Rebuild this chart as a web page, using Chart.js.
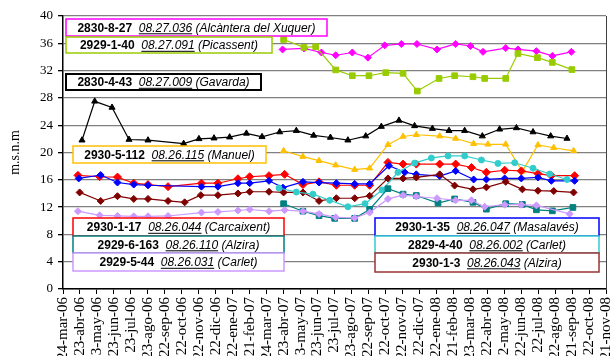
<!DOCTYPE html>
<html>
<head>
<meta charset="utf-8">
<script src="https://cdn.jsdelivr.net/npm/chart.js@4.4.0/dist/chart.umd.min.js"></script>
<style>
  html, body { margin: 0; padding: 0; background: #fff; }
  #wrap { width: 612px; height: 356px; }
</style>
</head>
<body>
<div id="wrap"><canvas id="levels" width="612" height="356"></canvas></div>
<script>
// x = months counted from 24-mar-06 (one tick per month), y = m.s.n.m
const xLabels = ['24-mar-06', '23-abr-06', '23-may-06', '23-jun-06', '23-jul-06', '23-ago-06',
    '22-sep-06', '22-oct-06', '22-nov-06', '22-dic-06', '22-ene-07', '21-feb-07', '24-mar-07',
    '23-abr-07', '23-may-07', '23-jun-07', '23-jul-07', '23-ago-07', '22-sep-07', '22-oct-07',
    '22-nov-07', '22-dic-07', '22-ene-08', '21-feb-08', '23-mar-08', '22-abr-08', '22-may-08',
    '22-jun-08', '22-jul-08', '22-ago-08', '21-sep-08', '22-oct-08', '21-nov-08'];
const yMin = 0, yMax = 40, yStep = 4;

// 2830-8-27 Alcàntera del Xuquer
const alcanteraX = [12.94, 14.20, 15.23, 16.07, 17.05, 17.97, 18.96, 19.94, 20.86, 22.04, 23.14, 24.01, 24.75, 26.09, 26.81, 27.90, 28.84, 29.96];
const alcanteraY = [35.1, 35.25, 34.65, 34.25, 34.65, 33.9, 35.7, 35.9, 35.9, 35.1, 35.9, 35.6, 34.75, 35.3, 35.1, 34.85, 34.15, 34.75];
// 2929-1-40 Picassent
const picassentX = [13.0, 14.2, 14.89, 16.07, 17.05, 18.03, 19.02, 20.04, 20.88, 22.16, 23.08, 24.16, 24.85, 26.09, 26.81, 27.96, 28.84, 29.99];
const picassentY = [36.55, 35.4, 35.5, 32.1, 31.25, 31.25, 31.7, 31.6, 29.0, 30.85, 31.25, 31.1, 30.85, 30.85, 34.5, 33.9, 33.2, 32.15];
// 2830-4-43 Gavarda
const gavardaX = [1.12, 1.87, 2.89, 3.89, 5.01, 7.11, 8.01, 8.9, 9.82, 10.81, 11.73, 12.77, 13.75, 14.77, 15.76, 16.79, 17.84, 18.76, 19.80, 20.72, 21.77, 22.75, 23.67, 24.71, 25.73, 26.72, 27.70, 28.74, 29.70];
const gavardaY = [21.8, 27.5, 26.6, 21.9, 21.8, 21.3, 22.0, 22.1, 22.25, 22.8, 22.3, 23.0, 23.2, 22.5, 22.2, 21.8, 22.4, 23.8, 24.7, 23.9, 23.5, 23.2, 23.2, 22.4, 23.4, 23.6, 23.0, 22.4, 22.05];
// 2930-5-112 Manuel
const manuelX = [13.0, 14.14, 15.09, 16.07, 17.19, 18.07, 19.15, 20.04, 20.82, 22.2, 23.14, 24.2, 25.04, 26.09, 27.07, 27.99, 28.92, 30.09];
const manuelY = [20.25, 19.4, 18.8, 18.15, 17.5, 17.7, 21.15, 22.35, 22.6, 22.4, 22.05, 21.3, 21.2, 21.2, 17.25, 21.1, 20.7, 20.25];
// 2930-1-17 Carcaixent
const carcaixentX = [0.88, 2.16, 3.21, 4.17, 5.01, 6.19, 8.16, 9.13, 10.31, 11.0, 12.14, 13.06, 14.14, 15.09, 16.11, 17.19, 18.07, 19.15, 20.04, 20.82, 22.2, 23.14, 24.07, 24.95, 26.03, 27.01, 27.99, 28.78, 30.15];
const carcaixentY = [16.65, 16.45, 16.4, 15.5, 15.3, 15.0, 15.5, 15.5, 16.15, 16.45, 16.6, 16.8, 15.3, 15.7, 15.2, 15.2, 15.2, 18.55, 18.3, 18.3, 18.3, 18.3, 17.8, 17.1, 17.4, 17.3, 16.9, 16.6, 16.6];
// 2930-1-35 Masalavés
const masalavesX = [0.93, 2.22, 3.21, 4.17, 5.01, 8.16, 9.13, 10.31, 11.0, 12.14, 12.96, 14.14, 15.09, 16.11, 17.19, 18.07, 19.21, 20.14, 20.82, 22.2, 23.14, 24.2, 24.95, 26.03, 27.01, 27.99, 28.78, 30.15];
const masalavesY = [16.2, 16.7, 15.6, 15.3, 15.2, 15.0, 15.0, 15.5, 15.5, 15.85, 14.85, 15.7, 15.6, 15.5, 15.4, 15.4, 18.05, 17.1, 16.8, 16.55, 17.3, 16.05, 16.05, 16.2, 16.2, 16.35, 15.85, 15.85];
// 2930-1-3 Alzira
const alzira3X = [0.98, 2.22, 3.21, 4.17, 5.01, 6.19, 7.17, 8.12, 9.13, 10.31, 11.0, 12.14, 13.0, 14.14, 15.09, 16.11, 17.19, 18.07, 19.15, 20.04, 20.82, 22.2, 23.08, 24.16, 24.95, 26.09, 27.07, 27.99, 28.92, 30.09];
const alzira3Y = [14.15, 12.9, 13.6, 13.2, 13.2, 12.9, 12.7, 13.75, 13.75, 14.0, 14.25, 14.25, 14.15, 14.15, 12.9, 13.3, 13.3, 13.65, 16.2, 16.2, 16.35, 16.8, 15.15, 14.6, 14.9, 15.7, 14.6, 14.4, 14.35, 14.15];
// 2929-5-44 Carlet
const carlet44X = [0.88, 2.16, 3.21, 4.17, 5.01, 6.19, 8.16, 9.13, 10.31, 11.0, 12.14, 13.06, 14.14, 15.09, 16.07, 17.19, 18.07, 19.15, 20.04, 20.82, 22.04, 23.14, 24.07, 24.85, 26.03, 27.01, 27.9, 29.86];
const carlet44Y = [11.4, 10.8, 10.7, 10.65, 10.65, 10.7, 11.2, 11.3, 11.5, 11.65, 11.4, 11.55, 11.4, 11.0, 10.5, 10.4, 11.2, 13.2, 13.75, 13.55, 13.3, 13.0, 13.0, 12.05, 12.35, 12.35, 12.25, 11.0];
// 2929-6-163 Alzira
const alzira163X = [13.0, 14.14, 15.09, 16.01, 17.19, 18.07, 19.15, 20.04, 20.82, 22.1, 23.08, 24.16, 24.95, 26.09, 27.07, 27.90, 28.84, 30.05];
const alzira163Y = [12.5, 11.4, 10.75, 10.35, 10.35, 11.65, 14.7, 13.9, 13.7, 12.6, 13.2, 12.7, 11.7, 12.5, 12.4, 11.6, 11.45, 11.95];
// 2829-4-40 Carlet
const carlet40X = [12.73, 13.75, 14.73, 15.72, 16.79, 17.80, 18.8, 19.74, 20.72, 21.71, 22.69, 23.67, 24.66, 25.63, 26.62, 27.70, 28.68, 29.70];
const carlet40Y = [14.8, 14.2, 13.9, 13.0, 12.05, 12.5, 14.5, 17.1, 18.45, 19.2, 19.5, 19.5, 18.9, 18.4, 18.5, 17.7, 16.85, 16.05];

// labelled boxes laid over the plot
const wellBoxes = [
    { code: '2830-8-27', id: '08.27.036', name: 'Alcàntera del Xuquer', color: '#ff00ff', rect: [66, 19, 261, 17] },
    { code: '2929-1-40', id: '08.27.091', name: 'Picassent', color: '#99cc00', rect: [66, 37, 206, 16] },
    { code: '2830-4-43', id: '08.27.009', name: 'Gavarda', color: '#000000', rect: [66, 74, 195, 16], lw: 2 },
    { code: '2930-5-112', id: '08.26.115', name: 'Manuel', color: '#ffc000', rect: [73, 146, 193, 17] },
    { code: '2930-1-17', id: '08.26.044', name: 'Carcaixent', color: '#ff0000', rect: [73, 218, 211, 18] },
    { code: '2929-6-163', id: '08.26.110', name: 'Alzira', color: '#008080', rect: [73, 236, 211, 17] },
    { code: '2929-5-44', id: '08.26.031', name: 'Carlet', color: '#cc99ff', rect: [73, 253, 211, 18] },
    { code: '2930-1-35', id: '08.26.047', name: 'Masalavés', color: '#0000ff', rect: [375, 218, 224, 18] },
    { code: '2829-4-40', id: '08.26.002', name: 'Carlet', color: '#33cccc', rect: [375, 236, 224, 17] },
    { code: '2930-1-3', id: '08.26.043', name: 'Alzira', color: '#993333', rect: [375, 253, 224, 19] }
];

function pts(xs, ys) {
    return xs.map((x, i) => ({ x: x, y: ys[i] }));
}

function series(label, xs, ys, color, style, radius) {
    return {
        label: label,
        data: pts(xs, ys),
        borderColor: color,
        backgroundColor: color,
        pointStyle: style,
        pointRadius: radius,
        pointBorderWidth: 1,
        borderWidth: 1.2,
        tension: 0
    };
}

const boxPlugin = {
    id: 'wellBoxes',
    afterDraw(chart) {
        const ctx = chart.ctx;
        const area = chart.chartArea;
        ctx.save();
        // right edge of the plot frame
        ctx.strokeStyle = '#404040';
        ctx.lineWidth = 1;
        ctx.beginPath();
        ctx.moveTo(area.right + 0.5, area.top);
        ctx.lineTo(area.right + 0.5, area.bottom);
        ctx.stroke();

        wellBoxes.forEach(b => {
            const [x, y, w, h] = b.rect;
            ctx.fillStyle = '#fff';
            ctx.fillRect(x, y, w, h);
            ctx.strokeStyle = b.color;
            ctx.lineWidth = b.lw || 1.5;
            ctx.strokeRect(x, y, w, h);

            const parts = [
                { t: b.code + '  ', f: 'bold 12px "Liberation Sans", Arial' },
                { t: b.id, f: 'italic 12px "Liberation Sans", Arial', u: true },
                { t: ' (' + b.name + ')', f: 'italic 12px "Liberation Sans", Arial' }
            ];
            let total = 0;
            parts.forEach(p => {
                ctx.font = p.f;
                p.w = ctx.measureText(p.t).width;
                total += p.w;
            });
            let tx = x + (w - total) / 2;
            const ty = y + h / 2 + 4.3;
            ctx.fillStyle = '#000';
            ctx.textBaseline = 'alphabetic';
            parts.forEach(p => {
                ctx.font = p.f;
                ctx.fillText(p.t, tx, ty);
                if (p.u) ctx.fillRect(tx, ty + 1.5, p.w, 1);
                tx += p.w;
            });
        });
        ctx.restore();
    }
};

new Chart(document.getElementById('levels'), {
    type: 'line',
    data: {
        datasets: [
            series('2929-5-44', carlet44X, carlet44Y, '#cc99ff', 'rectRot', 3.5),
            series('2929-6-163', alzira163X, alzira163Y, '#008080', 'rect', 4),
            series('2829-4-40', carlet40X, carlet40Y, '#33cccc', 'circle', 3),
            series('2930-1-3', alzira3X, alzira3Y, '#800000', 'rectRot', 3.5),
            series('2930-1-35', masalavesX, masalavesY, '#0000ff', 'rectRot', 3.5),
            series('2930-1-17', carcaixentX, carcaixentY, '#ff0000', 'rectRot', 4),
            series('2930-5-112', manuelX, manuelY, '#ffc000', 'triangle', 3.5),
            series('2830-4-43', gavardaX, gavardaY, '#000000', 'triangle', 3.5),
            series('2929-1-40', picassentX, picassentY, '#99cc00', 'rect', 4),
            series('2830-8-27', alcanteraX, alcanteraY, '#ff00ff', 'rectRot', 3.5)
        ]
    },
    options: {
        responsive: false,
        animation: false,
        devicePixelRatio: 1,
        layout: { padding: { top: 16, right: 6, bottom: 0, left: 0 } },
        plugins: {
            legend: { display: false },
            tooltip: { enabled: false }
        },
        scales: {
            x: {
                type: 'linear',
                min: 0,
                max: xLabels.length - 1,
                afterFit: scale => {
                    scale.height = 67;
                    scale.paddingLeft = 0;
                    scale.paddingRight = 0;
                },
                grid: { drawOnChartArea: false, drawTicks: true, tickLength: 5, color: '#000' },
                border: { display: true, color: '#000', width: 1.5 },
                ticks: {
                    stepSize: 1,
                    autoSkip: false,
                    maxTicksLimit: 60,
                    minRotation: 90,
                    maxRotation: 90,
                    padding: 3,
                    color: '#000',
                    font: { family: '"Liberation Serif", "Times New Roman", serif', size: 15 },
                    callback: v => xLabels[v]
                }
            },
            y: {
                min: yMin,
                max: yMax,
                afterFit: scale => {
                    scale.width = 63;
                    scale.paddingTop = 0;
                    scale.paddingBottom = 0;
                },
                grid: { color: '#808080', lineWidth: 1.3, drawTicks: true, tickLength: 5, tickColor: '#000' },
                border: { display: true, color: '#000', width: 1.5 },
                ticks: {
                    stepSize: yStep,
                    padding: 5,
                    color: '#000',
                    font: { family: '"Liberation Serif", "Times New Roman", serif', size: 13 }
                },
                title: {
                    display: true,
                    text: 'm.s.n.m',
                    color: '#000',
                    padding: { top: 7, bottom: 0 },
                    font: { family: '"Liberation Serif", "Times New Roman", serif', size: 14 }
                }
            }
        }
    },
    plugins: [boxPlugin]
});
</script>
</body>
</html>
